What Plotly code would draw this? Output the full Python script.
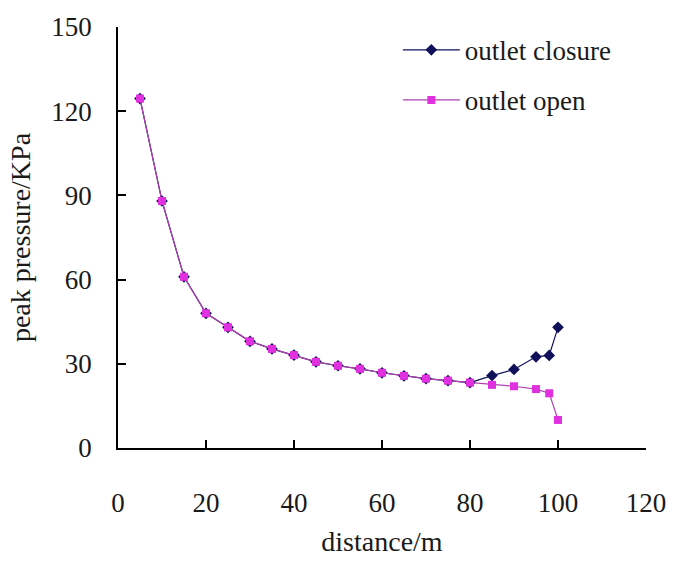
import plotly.graph_objects as go

distance = [5, 10, 15, 20, 25, 30, 35, 40, 45, 50, 55, 60, 65, 70, 75, 80, 85, 90, 95, 98, 100]
closure = [124.5, 88, 61, 48, 43, 38, 35.3, 33.1, 30.7, 29.3, 28.2, 26.8, 25.7, 24.7, 24, 23.3, 25.8, 28, 32.5, 33, 43]
open_ = [124.5, 88, 61, 48, 43, 38, 35.3, 33.1, 30.7, 29.3, 28.2, 26.8, 25.7, 24.7, 24, 23.3, 22.5, 22, 21, 19.5, 10]

x_ticks = [0, 20, 40, 60, 80, 100, 120]
y_ticks = [0, 30, 60, 90, 120, 150]

font = "Liberation Serif, Times New Roman, serif"

fig = go.Figure()
fig.add_trace(go.Scatter(
    x=distance, y=closure, name="outlet closure", mode="lines+markers",
    line=dict(color="#10105a", width=1.2),
    marker=dict(symbol="diamond", size=9, color="#10105a"),
    legendgroup="a"))
fig.add_trace(go.Scatter(
    x=distance, y=open_, name="outlet open", mode="lines+markers",
    line=dict(color="#b040b0", width=1.2),
    marker=dict(symbol="square", size=8, color="#e030e0"),
    legendgroup="b"))

fig.update_layout(
    width=678, height=564,
    margin=dict(l=118, r=25, t=25, b=113),
    paper_bgcolor="white", plot_bgcolor="white",
    font=dict(family=font, size=27, color="#1a1a1a"),
    showlegend=True,
    legend=dict(x=0.53, y=1.003, xanchor="left", yanchor="top",
                bgcolor="rgba(0,0,0,0)", font=dict(size=27),
                tracegroupgap=12, itemwidth=57),
)
fig.update_xaxes(range=[0, 120], tickvals=x_ticks, ticks="inside", ticklen=8,
                 tickwidth=1.5, tickcolor="black", showline=True, linecolor="black",
                 linewidth=1.5, showgrid=False, zeroline=False,
                 ticklabelstandoff=30,
                 title=dict(text="distance/m", font=dict(size=28), standoff=14))
fig.update_yaxes(range=[0, 150], tickvals=y_ticks, ticks="inside", ticklen=8,
                 tickwidth=1.5, tickcolor="black", showline=True, linecolor="black",
                 linewidth=1.5, showgrid=False, zeroline=False,
                 ticklabelstandoff=19,
                 title=dict(text="peak pressure/KPa", font=dict(size=28), standoff=13))

fig.write_html("out.html")
